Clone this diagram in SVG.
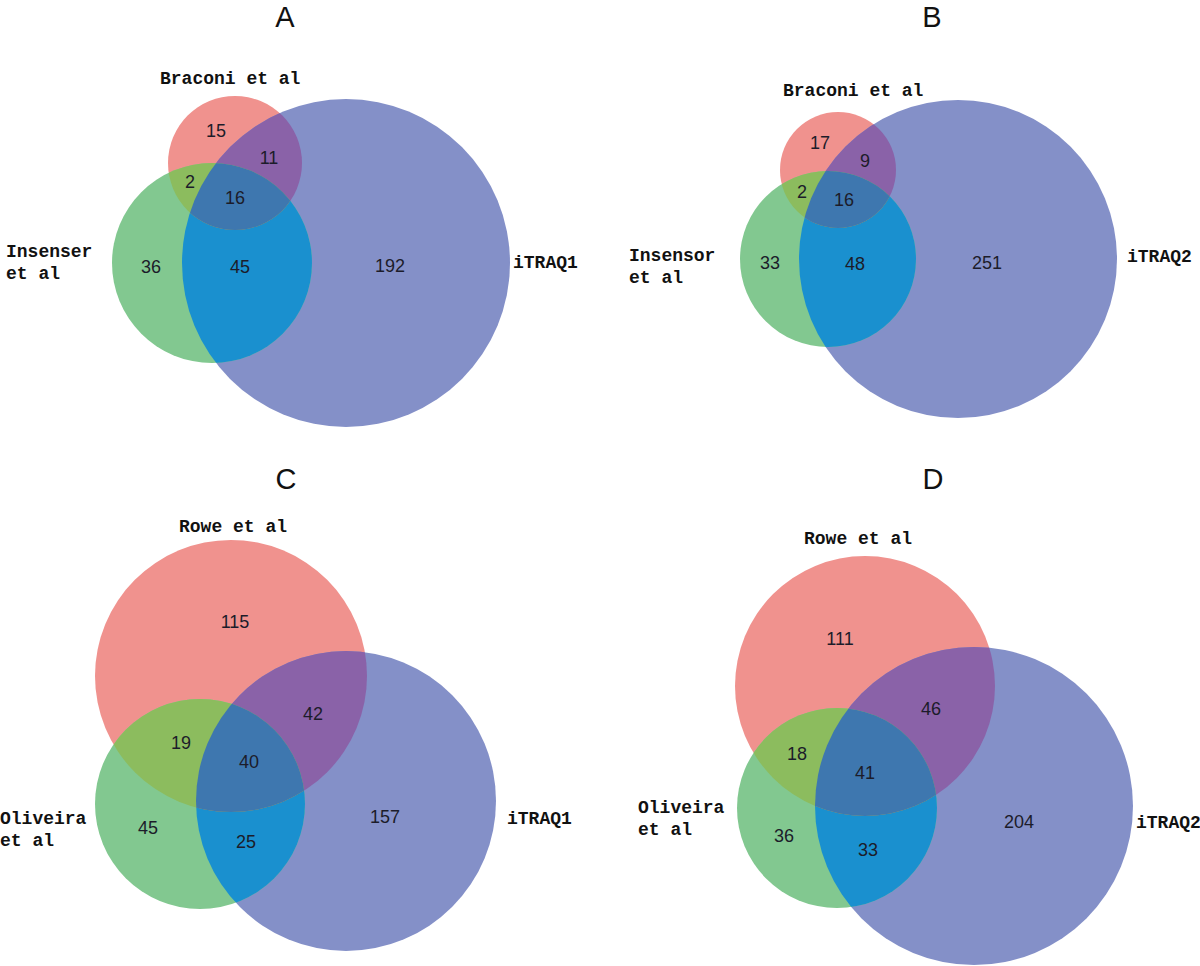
<svg xmlns="http://www.w3.org/2000/svg" width="1200" height="966" viewBox="0 0 1200 966">
<style>
.red{fill:#F0928E}
.green{fill:#82C890}
.blue{fill:#8490C8}
.rb{fill:#8A62A8}
.gb{fill:#1A90CF}
.rg{fill:#8CBC5E}
.rgb{fill:#3E77AF}
.title{font-family:"Liberation Sans",Arial,sans-serif;font-size:29px;fill:#111;text-anchor:middle}
.lbl{font-family:"Liberation Mono","Courier New",monospace;font-weight:bold;font-size:18px;fill:#111}
.num{font-family:"Liberation Sans",Arial,sans-serif;font-size:18px;fill:#1c1c2a;text-anchor:middle}
</style>
<defs>
<clipPath id="A-bc"><circle cx="346" cy="263" r="164"/></clipPath>
<clipPath id="A-gc"><circle cx="212" cy="263" r="100"/></clipPath>
<clipPath id="B-bc"><circle cx="958" cy="259" r="159"/></clipPath>
<clipPath id="B-gc"><circle cx="828" cy="259" r="88"/></clipPath>
<clipPath id="C-bc"><circle cx="346" cy="801" r="150"/></clipPath>
<clipPath id="C-gc"><circle cx="200" cy="804" r="105"/></clipPath>
<clipPath id="D-bc"><circle cx="974" cy="806" r="159"/></clipPath>
<clipPath id="D-gc"><circle cx="837" cy="808" r="100"/></clipPath>
</defs>
<rect width="1200" height="966" fill="#fff"/>

<g id="panelA">
<text class="title" x="285" y="27">A</text>
<g id="A-braconi"><circle class="red" cx="235" cy="163" r="67"/><text class="lbl" x="160" y="84">Braconi et al</text></g>
<g id="A-itraq1"><circle class="blue" cx="346" cy="263" r="164"/><text class="lbl" x="513" y="268">iTRAQ1</text></g>
<g id="A-insenser"><circle class="green" cx="212" cy="263" r="100"/><text class="lbl" x="6" y="257">Insenser</text><text class="lbl" x="6" y="279">et al</text></g>
<g id="A-overlaps">
<circle class="gb" cx="212" cy="263" r="100" clip-path="url(#A-bc)"/>
<circle class="rb" cx="235" cy="163" r="67" clip-path="url(#A-bc)"/>
<circle class="rg" cx="235" cy="163" r="67" clip-path="url(#A-gc)"/>
<g clip-path="url(#A-bc)"><circle class="rgb" cx="235" cy="163" r="67" clip-path="url(#A-gc)"/></g>
</g>
<g id="A-counts">
<text class="num" x="216" y="137">15</text>
<text class="num" x="269" y="164">11</text>
<text class="num" x="190" y="188">2</text>
<text class="num" x="235" y="204">16</text>
<text class="num" x="151" y="273">36</text>
<text class="num" x="240" y="273">45</text>
<text class="num" x="390" y="272">192</text>
</g>
</g>

<g id="panelB">
<text class="title" x="932" y="27">B</text>
<g id="B-braconi"><circle class="red" cx="838" cy="170" r="58"/><text class="lbl" x="783" y="96">Braconi et al</text></g>
<g id="B-itraq2"><circle class="blue" cx="958" cy="259" r="159"/><text class="lbl" x="1127" y="262">iTRAQ2</text></g>
<g id="B-insensor"><circle class="green" cx="828" cy="259" r="88"/><text class="lbl" x="629" y="261">Insensor</text><text class="lbl" x="629" y="283">et al</text></g>
<g id="B-overlaps">
<circle class="gb" cx="828" cy="259" r="88" clip-path="url(#B-bc)"/>
<circle class="rb" cx="838" cy="170" r="58" clip-path="url(#B-bc)"/>
<circle class="rg" cx="838" cy="170" r="58" clip-path="url(#B-gc)"/>
<g clip-path="url(#B-bc)"><circle class="rgb" cx="838" cy="170" r="58" clip-path="url(#B-gc)"/></g>
</g>
<g id="B-counts">
<text class="num" x="820" y="149">17</text>
<text class="num" x="865" y="167">9</text>
<text class="num" x="802" y="198">2</text>
<text class="num" x="844" y="206">16</text>
<text class="num" x="770" y="269">33</text>
<text class="num" x="855" y="270">48</text>
<text class="num" x="987" y="269">251</text>
</g>
</g>

<g id="panelC">
<text class="title" x="286" y="489">C</text>
<g id="C-rowe"><circle class="red" cx="231" cy="676" r="136"/><text class="lbl" x="179" y="532">Rowe et al</text></g>
<g id="C-itraq1"><circle class="blue" cx="346" cy="801" r="150"/><text class="lbl" x="507" y="824">iTRAQ1</text></g>
<g id="C-oliveira"><circle class="green" cx="200" cy="804" r="105"/><text class="lbl" x="0" y="824">Oliveira</text><text class="lbl" x="0" y="846">et al</text></g>
<g id="C-overlaps">
<circle class="gb" cx="200" cy="804" r="105" clip-path="url(#C-bc)"/>
<circle class="rb" cx="231" cy="676" r="136" clip-path="url(#C-bc)"/>
<circle class="rg" cx="231" cy="676" r="136" clip-path="url(#C-gc)"/>
<g clip-path="url(#C-bc)"><circle class="rgb" cx="231" cy="676" r="136" clip-path="url(#C-gc)"/></g>
</g>
<g id="C-counts">
<text class="num" x="235" y="628">115</text>
<text class="num" x="313" y="720">42</text>
<text class="num" x="181" y="749">19</text>
<text class="num" x="249" y="768">40</text>
<text class="num" x="385" y="823">157</text>
<text class="num" x="148" y="834">45</text>
<text class="num" x="246" y="848">25</text>
</g>
</g>

<g id="panelD">
<text class="title" x="933" y="489">D</text>
<g id="D-rowe"><circle class="red" cx="865" cy="686" r="130"/><text class="lbl" x="804" y="544">Rowe et al</text></g>
<g id="D-itraq2"><circle class="blue" cx="974" cy="806" r="159"/><text class="lbl" x="1136" y="828">iTRAQ2</text></g>
<g id="D-oliveira"><circle class="green" cx="837" cy="808" r="100"/><text class="lbl" x="638" y="813">Oliveira</text><text class="lbl" x="638" y="835">et al</text></g>
<g id="D-overlaps">
<circle class="gb" cx="837" cy="808" r="100" clip-path="url(#D-bc)"/>
<circle class="rb" cx="865" cy="686" r="130" clip-path="url(#D-bc)"/>
<circle class="rg" cx="865" cy="686" r="130" clip-path="url(#D-gc)"/>
<g clip-path="url(#D-bc)"><circle class="rgb" cx="865" cy="686" r="130" clip-path="url(#D-gc)"/></g>
</g>
<g id="D-counts">
<text class="num" x="840" y="645">111</text>
<text class="num" x="931" y="715">46</text>
<text class="num" x="797" y="760">18</text>
<text class="num" x="865" y="779">41</text>
<text class="num" x="1019" y="828">204</text>
<text class="num" x="784" y="842">36</text>
<text class="num" x="868" y="856">33</text>
</g>
</g>

<g id="connectors"/>
</svg>
